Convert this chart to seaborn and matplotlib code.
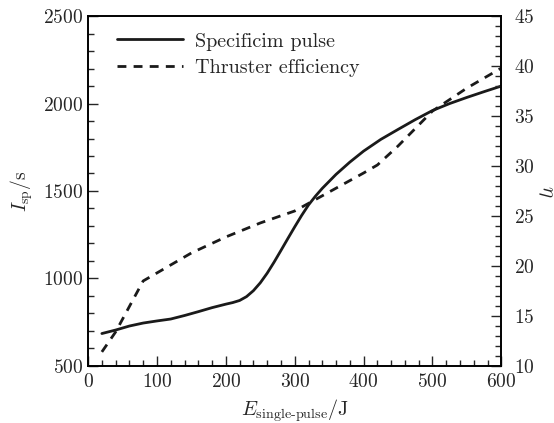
import numpy as np
import pandas as pd
import matplotlib
matplotlib.use("Agg")
import matplotlib.pyplot as plt
from matplotlib.ticker import MultipleLocator
import seaborn as sns

# Data
isp_energy = [20, 40, 60, 80, 100, 120, 140, 160, 180, 200, 210, 220, 230, 240, 250, 260,
              270, 280, 290, 300, 310, 320, 330, 340, 350, 360, 380, 400, 425, 450,
              475, 500, 525, 550, 575, 600]
isp_values = [685, 705, 728, 745, 757, 768, 788, 810, 833, 853, 862, 874, 896, 930, 975, 1030,
              1093, 1160, 1228, 1295, 1360, 1420, 1470, 1515, 1555, 1595, 1665, 1728, 1795, 1852,
              1908, 1960, 2000, 2035, 2068, 2100]

eta_energy = [20, 40, 80, 100, 150, 200, 250, 300, 350, 400, 420, 450, 500, 550, 600]
eta_values = [11.4, 13.4, 18.5, 19.3, 21.3, 22.9, 24.3, 25.5, 27.4, 29.3, 30.1, 32.0, 35.5, 37.8, 39.8]

label_isp = "Specificim pulse"
label_eta = "Thruster efficiency"

sns.set_style("ticks")
plt.rcParams.update({
    "font.family": ["serif"],
    "font.serif": ["cmr10", "DejaVu Serif"],
    "mathtext.fontset": "cm",
    "axes.formatter.use_mathtext": True,
    "axes.unicode_minus": False,
    "font.size": 14,
    "axes.linewidth": 1.2,
})

df_isp = pd.DataFrame({"E": isp_energy, "Isp": isp_values})
df_eta = pd.DataFrame({"E": eta_energy, "eta": eta_values})

fig = plt.figure(figsize=(5.54, 4.23), dpi=100)
ax = fig.add_axes([0.159, 0.135, 0.746, 0.827])
ax2 = ax.twinx()

color = "#1a1a1a"
sns.lineplot(data=df_isp, x="E", y="Isp", ax=ax, color=color, lw=2.0, label=label_isp, legend=False)
sns.lineplot(data=df_eta, x="E", y="eta", ax=ax2, color=color, lw=2.0, label=label_eta, legend=False)
ax2.lines[0].set_dashes((3.2, 2.6))

ax.set_xlim(0, 600)
ax.set_ylim(500, 2500)
ax2.set_ylim(10, 45)

ax.xaxis.set_major_locator(MultipleLocator(100))
ax.xaxis.set_minor_locator(MultipleLocator(20))
ax.yaxis.set_major_locator(MultipleLocator(500))
ax.yaxis.set_minor_locator(MultipleLocator(100))
ax2.yaxis.set_major_locator(MultipleLocator(5))
ax2.yaxis.set_minor_locator(MultipleLocator(1))

ax.tick_params(which="both", direction="in", top=False, right=False, labelsize=14)
ax.tick_params(which="major", length=7, width=1.0)
ax.tick_params(which="minor", length=4, width=1.0)
ax.tick_params(axis="x", pad=5)
ax2.tick_params(which="both", direction="in", labelsize=14, pad=9)
ax2.tick_params(which="major", length=7, width=1.0)
ax2.tick_params(which="minor", length=4, width=1.0)

for a in (ax, ax2):
    for s in a.spines.values():
        s.set_visible(True)
        s.set_linewidth(1.2)
        s.set_color("black")

ax.set_xlabel(r"$E_{\text{single-pulse}}/\mathrm{J}$", fontsize=14.5, labelpad=5)
ax.set_ylabel(r"$I_{\mathrm{sp}}/\mathrm{s}$", fontsize=14, labelpad=6)
ax2.set_ylabel(r"$\eta$", fontsize=15, rotation=-90, va="center", ha="center")
ax2.yaxis.set_label_coords(1.105, 0.5)

handles = ax.lines[:1] + ax2.lines[:1]
leg = ax.legend(handles, [label_isp, label_eta], loc="upper left", frameon=False,
                handlelength=3.3, fontsize=14.5, bbox_to_anchor=(0.025, 1.005),
                labelspacing=0.4, handletextpad=0.6)

fig.savefig("out.png", dpi=100)
